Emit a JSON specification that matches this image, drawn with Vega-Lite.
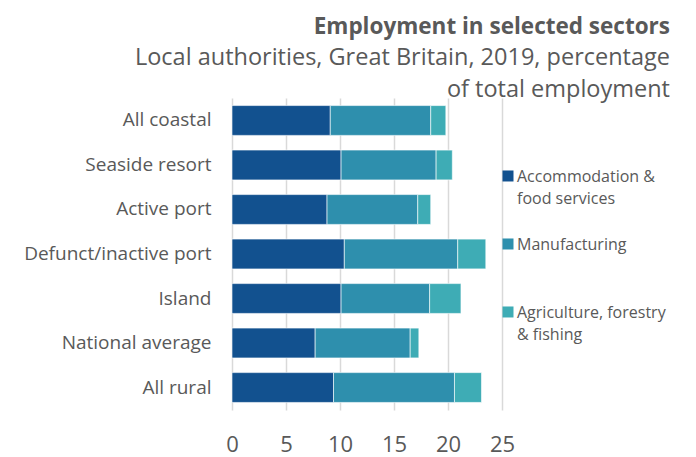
{
  "$schema": "https://vega.github.io/schema/vega-lite/v6.json",
  "width": 270,
  "height": 312,
  "autosize": {"type": "none"},
  "padding": {"left": 232, "top": 98, "right": 194, "bottom": 47},
  "background": "white",
  "config": {
    "font": "Open Sans",
    "view": {"stroke": null},
    "style": {"guide-label": {"lineHeight": 22}}
  },
  "title": {
    "text": "Employment in selected sectors",
    "subtitle": ["Local authorities, Great Britain, 2019, percentage", "of total employment"],
    "anchor": "end",
    "frame": "group",
    "dx": 168,
    "offset": -3,
    "font": "Open Sans",
    "fontSize": 22.5,
    "fontWeight": "bold",
    "color": "#595959",
    "subtitleFont": "Open Sans",
    "subtitleFontSize": 23.5,
    "subtitleColor": "#595959",
    "subtitleLineHeight": 32,
    "subtitlePadding": 7
  },
  "data": {
    "values": [
      {"area": "All coastal", "sector": "Accommodation & food services", "k": 1, "value": 9.1},
      {"area": "All coastal", "sector": "Manufacturing", "k": 2, "value": 9.3},
      {"area": "All coastal", "sector": "Agriculture, forestry & fishing", "k": 3, "value": 1.4},
      {"area": "Seaside resort", "sector": "Accommodation & food services", "k": 1, "value": 10.1},
      {"area": "Seaside resort", "sector": "Manufacturing", "k": 2, "value": 8.8},
      {"area": "Seaside resort", "sector": "Agriculture, forestry & fishing", "k": 3, "value": 1.5},
      {"area": "Active port", "sector": "Accommodation & food services", "k": 1, "value": 8.8},
      {"area": "Active port", "sector": "Manufacturing", "k": 2, "value": 8.4},
      {"area": "Active port", "sector": "Agriculture, forestry & fishing", "k": 3, "value": 1.2},
      {"area": "Defunct/inactive port", "sector": "Accommodation & food services", "k": 1, "value": 10.4},
      {"area": "Defunct/inactive port", "sector": "Manufacturing", "k": 2, "value": 10.5},
      {"area": "Defunct/inactive port", "sector": "Agriculture, forestry & fishing", "k": 3, "value": 2.6},
      {"area": "Island", "sector": "Accommodation & food services", "k": 1, "value": 10.1},
      {"area": "Island", "sector": "Manufacturing", "k": 2, "value": 8.2},
      {"area": "Island", "sector": "Agriculture, forestry & fishing", "k": 3, "value": 2.9},
      {"area": "National average", "sector": "Accommodation & food services", "k": 1, "value": 7.7},
      {"area": "National average", "sector": "Manufacturing", "k": 2, "value": 8.8},
      {"area": "National average", "sector": "Agriculture, forestry & fishing", "k": 3, "value": 0.8},
      {"area": "All rural", "sector": "Accommodation & food services", "k": 1, "value": 9.4},
      {"area": "All rural", "sector": "Manufacturing", "k": 2, "value": 11.2},
      {"area": "All rural", "sector": "Agriculture, forestry & fishing", "k": 3, "value": 2.5}
    ]
  },
  "mark": {"type": "bar", "stroke": "white", "strokeWidth": 1, "strokeOpacity": 0.6},
  "encoding": {
    "y": {
      "field": "area",
      "type": "nominal",
      "sort": ["All coastal", "Seaside resort", "Active port", "Defunct/inactive port", "Island", "National average", "All rural"],
      "scale": {"paddingInner": 0.33, "paddingOuter": 0.17},
      "axis": {
        "title": null,
        "ticks": false,
        "domain": false,
        "labelFontSize": 19,
        "labelColor": "#595959",
        "labelPadding": 21,
        "labelLimit": 260,
        "labelFont": "Open Sans"
      }
    },
    "x": {
      "field": "value",
      "type": "quantitative",
      "stack": "zero",
      "scale": {"domain": [0, 25], "nice": false},
      "axis": {
        "title": null,
        "values": [0, 5, 10, 15, 20, 25],
        "ticks": false,
        "domain": false,
        "grid": true,
        "gridColor": "#D9D9D9",
        "gridWidth": 1.5,
        "labelFlush": false,
        "labelFontSize": 22,
        "labelColor": "#595959",
        "labelPadding": 24,
        "labelFont": "Open Sans"
      }
    },
    "color": {
      "field": "sector",
      "type": "nominal",
      "scale": {
        "domain": ["Accommodation & food services", "Manufacturing", "Agriculture, forestry & fishing"],
        "range": ["#12518F", "#2E8FAD", "#3EACB5"]
      },
      "legend": {
        "title": null,
        "orient": "none",
        "legendX": 268,
        "legendY": 63,
        "symbolType": "M-1,0.27H1V2.27H-1Z",
        "symbolSize": 121,
        "symbolStrokeWidth": 0,
        "labelFontSize": 16,
        "labelColor": "#595959",
        "labelFont": "Open Sans",
        "labelBaseline": "top",
        "labelOffset": 1,
        "labelLimit": 300,
        "rowPadding": 22,
        "labelExpr": "datum.label == 'Accommodation & food services' ? ['Accommodation &', 'food services'] : datum.label == 'Agriculture, forestry & fishing' ? ['Agriculture, forestry', '& fishing'] : ['Manufacturing', '']"
      }
    },
    "order": {"field": "k", "type": "quantitative"}
  }
}
